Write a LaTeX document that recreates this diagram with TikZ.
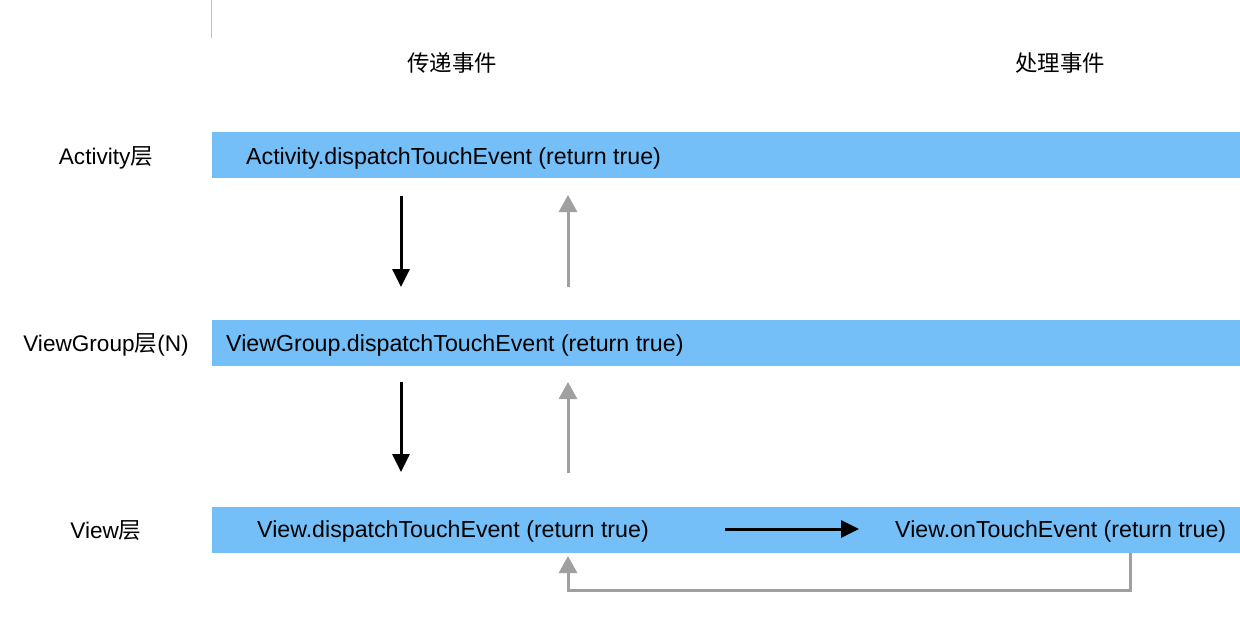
\documentclass[tikz,border=0pt]{standalone}
\usepackage{fontspec}
\setmainfont{Liberation Sans}
\newfontfamily\cjk{Noto Sans CJK SC}
\usetikzlibrary{arrows.meta}
\definecolor{barblue}{RGB}{116,191,248}
\definecolor{retgray}{RGB}{160,160,160}
\tikzset{
  bar/.style={fill=barblue, draw=none, anchor=north west, minimum width=1028pt, minimum height=46pt, inner sep=0pt},
  txt/.style={font=\fontsize{23.2}{27}\selectfont, inner sep=0pt, anchor=west},
  lbl/.style={font=\fontsize{22.6}{26}\selectfont, inner sep=0pt},
  hdr/.style={font=\fontsize{22.4}{26}\selectfont\cjk, inner sep=0pt},
  fwd/.style={line width=3pt, -{Triangle[width=17pt,length=18pt]}, black},
  back/.style={line width=3pt, -{Triangle[width=18pt,length=17pt]}, retgray}
}
\begin{document}
\begin{tikzpicture}[x=1pt,y=-1pt]
\useasboundingbox (0,0) rectangle (1240,630);
\fill[white] (0,0) rectangle (1240,630);
\draw[line width=1pt, black!25] (211,0) -- (211,38);

% headers
\node[hdr] (h1) at (452,63) {传递事件};
\node[hdr] (h2) at (1060,63) {处理事件};

% bars
\node[bar] (b1) at (212,132) {};
\node[bar] (b2) at (212,320) {};
\node[bar] (b3) at (212,507) {};

% row labels
\node[lbl] (l1) at (106,158) {Activity{\cjk 层}};
\node[lbl] (l2) at (106,345) {ViewGroup{\cjk 层}(N)};
\node[lbl] (l3) at (106,531) {View{\cjk 层}};

% bar texts
\node[txt] (t1) at (246,158) {Activity.dispatchTouchEvent (return true)};
\node[txt] (t2) at (226,345) {ViewGroup.dispatchTouchEvent (return true)};
\node[txt] (t3) at (257,531) {View.dispatchTouchEvent (return true)};
\node[txt] (t4) at (895,531) {View.onTouchEvent (return true)};

% coordinates for connectors
\coordinate (d1s) at (401,196);
\coordinate (d1e) at (401,287);
\coordinate (d2s) at (401,382);
\coordinate (d2e) at (401,472);
\coordinate (u1s) at (568,287);
\coordinate (u1e) at (568,195);
\coordinate (u2s) at (568,473);
\coordinate (u2e) at (568,382);
\coordinate (hs) at (725,529);
\coordinate (he) at (859,529);
\coordinate (r1) at (1130,553);
\coordinate (r2) at (1130,590);
\coordinate (r3) at (568,590);
\coordinate (r4) at (568,556);

\draw[fwd] (d1s) -- (d1e);
\draw[fwd] (d2s) -- (d2e);
\draw[back] (u1s) -- (u1e);
\draw[back] (u2s) -- (u2e);
\draw[fwd] (hs) -- (he);
\draw[back, line join=miter] (r1) -- (r2) -- (r3) -- (r4);
\end{tikzpicture}
\end{document}
